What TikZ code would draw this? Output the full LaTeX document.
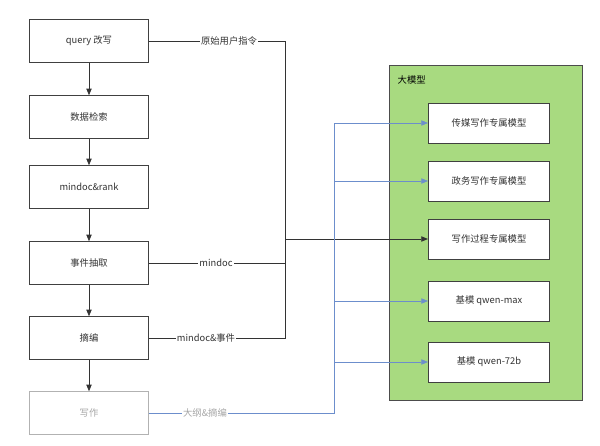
\documentclass[tikz,border=0pt]{standalone}
\usepackage{fontspec}
\setmainfont{Noto Sans CJK SC}
\usetikzlibrary{arrows.meta}
\definecolor{groupgreen}{RGB}{168,218,128}
\definecolor{linkblue}{RGB}{108,142,204}
\tikzset{
  stage/.style={draw=black!75, fill=white, semithick, minimum width=89pt, minimum height=32pt, font=\fontsize{7}{8}\selectfont, text=black!80},
  model/.style={draw=black!75, fill=white, semithick, minimum width=91pt, minimum height=30pt, font=\fontsize{7}{8}\selectfont, text=black!80},
  flow/.style={semithick, black!80, -{Triangle[length=5pt,width=4pt]}},
  blueline/.style={draw=linkblue},
  tag/.style={fill=white, inner sep=1pt, font=\fontsize{7}{8}\selectfont, text=black!80}
}
\begin{document}
\begin{tikzpicture}[x=0.75pt, y=-0.75pt]
\useasboundingbox (0,0) rectangle (600,446);
% Model group
    \draw[semithick, black!70, fill=groupgreen] (389,65) rectangle (582,400);
    \node[anchor=north west, font=\fontsize{7}{8}\selectfont] (group) at (393,71) {大模型};
% Pipeline stages
    \node[stage] (query) at (89,41) {query 改写};
    \node[stage] (search) at (89,117) {数据检索};
    \node[stage] (rank) at (89,187) {mindoc\&rank};
    \node[stage] (extract) at (89,263) {事件抽取};
    \node[stage] (digest) at (89,338) {摘编};
    \node[stage, draw=black!30, text=black!35] (write) at (89,413) {写作};
    \draw[flow] (query) -- (search);
    \draw[flow] (search) -- (rank);
    \draw[flow] (rank) -- (extract);
    \draw[flow] (extract) -- (digest);
    \draw[flow] (digest) -- (write);
% Models
    \node[model] (media) at (489,123) {传媒写作专属模型};
    \node[model] (gov) at (489,181) {政务写作专属模型};
    \node[model] (proc) at (489,239) {写作过程专属模型};
    \node[model] (max) at (489,301) {基模 qwen-max};
    \node[model] (big) at (489,362) {基模 qwen-72b};
% Black bus
    \coordinate (bt) at (285,41);
    \coordinate (bm) at (285,239);
    \coordinate (bb) at (285,338);
    \draw[semithick, black!80] (query.east) -- (bt) -- (bb) -- (digest.east);
    \draw[semithick, black!80] (extract.east) -- (285,263);
    \draw[flow] (bm) -- (proc.west);
    \node[tag] at (229,41) {原始用户指令};
    \node[tag] at (216,263) {mindoc};
    \node[tag] at (206,338) {mindoc\&事件};
% Blue bus
    \coordinate (lt) at (334,123);
    \coordinate (lb) at (334,413);
    \draw[blueline] (write.east) -- (lb) -- (lt);
    \foreach \m in {media, gov, max, big}
      \draw[blueline, -{Triangle[length=5pt,width=4pt]}] (lt |- \m.west) -- (\m.west);
    \node[tag, text=black!35] at (205,413) {大纲\&摘编};
\end{tikzpicture}
\end{document}
